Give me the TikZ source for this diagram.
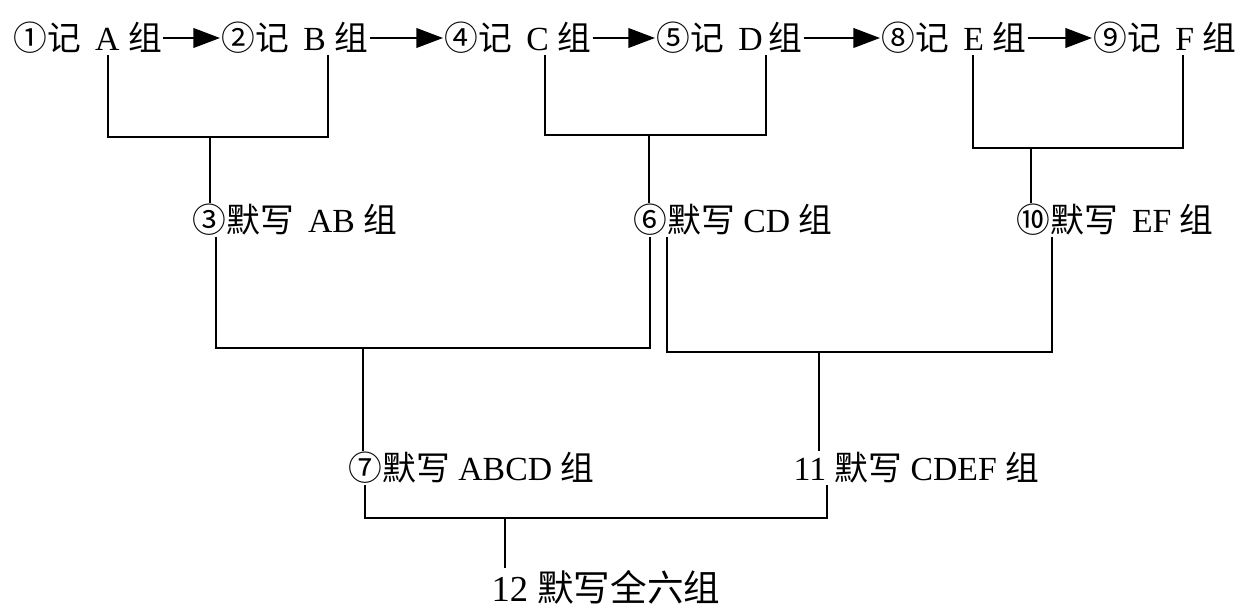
\documentclass[tikz,border=0pt]{standalone}
\usepackage{fontspec}
\setmainfont{Liberation Serif}
\newfontfamily\cjk{Noto Sans CJK SC}
\usepackage{tikz}
\usetikzlibrary{arrows.meta,positioning}
\newcommand{\zh}[1]{{\cjk #1}}

\begin{document}
\begin{tikzpicture}[x=0.025cm,y=-0.025cm,
    txt/.style={anchor=west,inner sep=1pt,font=\fontsize{24}{28}\selectfont},
    link/.style={line width=1.4pt},
    arr/.style={line width=1.4pt,-{Triangle[length=19pt,width=14pt]}}]
    \useasboundingbox (0,0) rectangle (1240,611);

    % Memorising steps
    \node[txt] (recA) at (12,38) {\zh{①记}\, A \zh{组}};
    \node[txt] (recB) at (220,38) {\zh{②记}\, B \zh{组}};
    \node[txt] (recC) at (443,38) {\zh{④记}\, C \zh{组}};
    \node[txt] (recD) at (655,38) {\zh{⑤记}\, D\,\zh{组}};
    \node[txt] (recE) at (880,38) {\zh{⑧记}\, E \zh{组}};
    \node[txt] (recF) at (1092,38) {\zh{⑨记}\, F \zh{组}};

    % Dictation steps
    \node[txt] (dicAB) at (191,220) {\zh{③默写}\, AB \zh{组}};
    \node[txt] (dicCD) at (632,220) {\zh{⑥默写} CD \zh{组}};
    \node[txt] (dicEF) at (1015,220) {\zh{⑩默写}\, EF \zh{组}};
    \node[txt] (dicABCD) at (347,468) {\zh{⑦默写} ABCD \zh{组}};
    \node[txt] (dicCDEF) at (792,468) {11 \zh{默写} CDEF \zh{组}};
    \node[txt,font=\fontsize{26}{30}\selectfont] (dicAll) at (490,587) {12 \zh{默写全六组}};

    % Arrows between memorising steps
    \draw[arr] (recA) -- (recB);
    \draw[arr] (recB) -- (recC);
    \draw[arr] (recC) -- (recD);
    \draw[arr] (recD) -- (recE);
    \draw[arr] (recE) -- (recF);

    % Junction points
    \coordinate (xA) at (108,0);
    \coordinate (xB) at (328,0);
    \coordinate (xC) at (545,0);
    \coordinate (xD) at (766,0);
    \coordinate (xE) at (973,0);
    \coordinate (xF) at (1183,0);
    \coordinate (jAB) at (210,137);
    \coordinate (jCD) at (649,135);
    \coordinate (jEF) at (1031,148);
    \coordinate (jABCD) at (363,348);
    \coordinate (jCDEF) at (819,352);
    \coordinate (jAll) at (505,518);

    % Pairs
    \draw[link] (recA.south -| xA) |- (jAB) -| (recB.south -| xB);
    \draw[link] (jAB) -- (jAB |- dicAB.north);
    \draw[link] (recC.south -| xC) |- (jCD) -| (recD.south -| xD);
    \draw[link] (jCD) -- (jCD |- dicCD.north);
    \draw[link] (recE.south -| xE) |- (jEF) -| (recF.south -| xF);
    \draw[link] (jEF) -- (jEF |- dicEF.north);

    % Fours
    \draw[link] ([xshift=18]dicAB.south west) |- (jABCD) -| ([xshift=13]dicCD.south west);
    \draw[link] (jABCD) -- (jABCD |- dicABCD.north);
    \draw[link] ([xshift=25]dicCD.south west) |- (jCDEF) -| ([xshift=26]dicEF.south west);
    \draw[link] (jCDEF) -- (jCDEF |- dicCDEF.north);

    % All six
    \draw[link] ([xshift=13]dicABCD.south west) |- (jAll) -| ([xshift=25]dicCDEF.south west);
    \draw[link] (jAll) -- (jAll |- dicAll.north);
\end{tikzpicture}
\end{document}
